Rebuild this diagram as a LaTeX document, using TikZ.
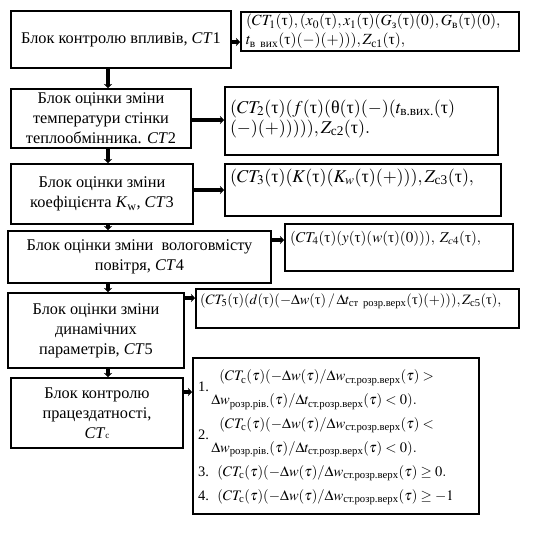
\documentclass[tikz,border=0pt]{standalone}
\usepackage{amsmath}
\usepackage{mathptmx}
\usepackage{fontspec}
\setmainfont{Liberation Serif}
\usetikzlibrary{arrows.meta}
\newcommand{\tu}{\textup{τ}}
\newcommand{\ra}{\text{ст.розр.верх}}
\tikzset{%
	block/.style={
		draw,
		line width=2pt,
		anchor=north west,
		align=center,
		inner sep=2pt,
		font=\fontsize{16.3}{20}\selectfont
	},
	formula/.style={
		draw,
		line width=2pt,
		anchor=north west,
		align=left,
		inner xsep=5pt,
		inner ysep=3pt
	},
	link/.style={
		line width=3.5pt,
		-{Stealth[length=4pt,width=8pt]}
	},
}

\begin{document}
\begin{tikzpicture}[x=1pt, y=-1pt]
	\useasboundingbox (0,0) rectangle (558,533);
	
	% blocks
	\node [block, minimum width=220pt, minimum height=57pt] (b1) at (10,10)
	{Блок контролю впливів, \textit{CT}1};
	\node [block, minimum width=180pt, minimum height=59pt] (b2) at (10,88)
	{Блок оцінки зміни\\температури стінки\\теплообмінника. \textit{CT}2};
	\node [block, minimum width=182pt, minimum height=60pt] (b3) at (10,163)
	{Блок оцінки зміни\\коефіцієнта \textit{K}\textsubscript{w}, \textit{CT}3};
	\node [block, minimum width=263pt, minimum height=52pt] (b4) at (7,230)
	{Блок оцінки зміни \ вологовмісту\\повітря, \textit{CT}4};
	\node [block, minimum width=176pt, minimum height=75pt] (b5) at (7,292)
	{Блок оцінки зміни\\динамічних\\параметрів, \textit{CT}5};
	\node [block, minimum width=172pt, minimum height=70pt] (b6) at (10,377)
	{Блок контролю\\працездатності,\\\textit{CT}{\small с}};
	
	% formulas
	\node [formula, text width=268pt, minimum height=39pt, inner ysep=2pt,
	font=\fontsize{15.5}{19}\selectfont] (f1) at (240,11)
	{$(CT_1(\tu), (x_0(\tu), x_1(\tu)(G_\text{з}(\tu)(0), G_\text{в}(\tu)(0),$\\
	$t_\text{в вих}(\tu)(-)(+))), Z_\text{с1}(\tu),$};
	\node [formula, text width=263pt, minimum height=68pt, text depth=29pt,
	font=\fontsize{18}{20}\selectfont] (f2) at (224,86)
	{$(CT_2(\tu)(f(\tu)(\textup{θ}(\tu)(-)(t_\text{в.вих.}(\tu)$\\
	$(-)(+))))),Z_\text{с2}(\tu).$};
	\node [formula, text width=266pt, minimum height=52pt, text height=15pt, text depth=31pt,
	font=\fontsize{18}{20}\selectfont] (f3) at (224,163)
	{$(CT_3(\tu)(K(\tu)(K_w(\tu)(+))), Z_\text{с3}(\tu),$};
	\node [formula, text width=218pt, minimum height=47pt, text height=15pt, text depth=26pt,
	font=\fontsize{15}{17}\selectfont] (f4) at (284,223)
	{$(CT_4(\tu)(y(\tu)(w(\tu)(0))),\; Z_{c4}(\tu),$};
	\node [formula, text width=315pt, minimum height=39pt, text height=12pt, text depth=21pt,
	inner xsep=4pt, font=\fontsize{14.3}{17}\selectfont] (f5) at (195,288)
	{$(CT_5(\tu)(d(\tu)(-\Delta w(\tu)\,/\,\Delta t_\text{ст розр.верх}(\tu)(+))), Z_\text{с5}(\tu),$};
	\node [formula, text width=276pt, minimum height=156pt,
	font=\fontsize{14.5}{18}\selectfont] (f6) at (192,357)
	{\renewcommand{\arraystretch}{1.33}%
	\begin{tabular}{@{}l@{\,}l@{}}
		1. & \begin{tabular}{@{}l@{}}
			\hspace{8pt}$(CT_\text{с}(\tau)(-\Delta w(\tau)/\Delta w_\ra(\tau) >$\\
			$\Delta w_\text{розр.рів.}(\tau)/\Delta t_\ra(\tau) < 0).$
		\end{tabular}\\
		2. & \begin{tabular}{@{}l@{}}
			\hspace{8pt}$(CT_\text{с}(\tau)(-\Delta w(\tau)/\Delta w_\ra(\tau) <$\\
			$\Delta w_\text{розр.рів.}(\tau)/\Delta t_\ra(\tau) < 0).$
		\end{tabular}\\
		3. & \hspace{6pt}$(CT_\text{с}(\tau)(-\Delta w(\tau)/\Delta w_\ra(\tau) \geq 0.$\\
		4. & \hspace{6pt}$(CT_\text{с}(\tau)(-\Delta w(\tau)/\Delta w_\ra(\tau) \geq -1$
	\end{tabular}};
	
	% links between blocks
	\foreach \a/\b in {b1/b2, b2/b3, b3/b4, b4/b5, b5/b6}
	\draw [link] (108,0 |- \a.south) -- (108,0 |- \b.north);
	
	% links to formulas
	\foreach \i/\y in {1/42, 2/120, 3/190, 4/240, 5/298, 6/392}
	\draw [link] (b\i.east |- 0,\y) -- (f\i.west |- 0,\y);
	
\end{tikzpicture}
\end{document}
